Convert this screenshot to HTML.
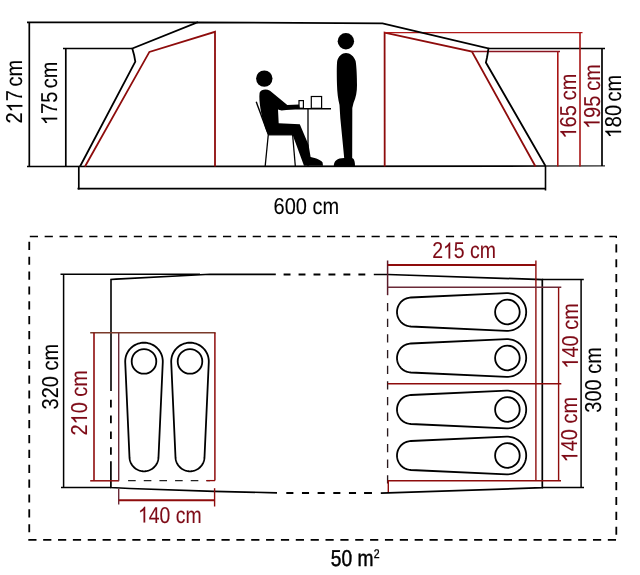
<!DOCTYPE html>
<html><head><meta charset="utf-8"><style>
html,body{margin:0;padding:0;background:#fff;}
svg{display:block;will-change:transform;text-rendering:geometricPrecision;font-family:"Liberation Sans",sans-serif;}
</style></head><body>
<svg width="640" height="575" viewBox="0 0 640 575">
<rect width="640" height="575" fill="#fff"/>
<line x1="27" y1="22.3" x2="198" y2="22.3" stroke="#000" stroke-width="1.7"/>
<line x1="29.3" y1="22.3" x2="29.3" y2="166.5" stroke="#000" stroke-width="1.7"/>
<line x1="27" y1="166.5" x2="545.5" y2="166.0" stroke="#000" stroke-width="1.7"/>
<line x1="545.5" y1="166.0" x2="605" y2="165.9" stroke="#2a2a2a" stroke-width="1.3"/>
<line x1="63" y1="48.5" x2="132" y2="48.5" stroke="#000" stroke-width="1.7"/>
<line x1="65.8" y1="48.5" x2="65.8" y2="166.5" stroke="#000" stroke-width="1.7"/>
<line x1="488.4" y1="48.5" x2="605" y2="48.5" stroke="#000" stroke-width="1.7"/>
<line x1="602" y1="48.5" x2="602" y2="166.0" stroke="#000" stroke-width="1.7"/>
<polyline points="85,166.5 149.4,51.9 215.0,31.8 215.0,166.5" fill="none" stroke="#8e0c0c" stroke-width="1.8" stroke-linejoin="miter"/>
<polyline points="384.7,166.5 384.6,32.6 471.9,51.6 535.5,166.5" fill="none" stroke="#8e0c0c" stroke-width="1.8" stroke-linejoin="miter"/>
<line x1="384.6" y1="32.6" x2="582.5" y2="32.6" stroke="#b01818" stroke-width="1.15"/>
<line x1="580" y1="32.6" x2="580" y2="166.5" stroke="#a81414" stroke-width="1.6"/>
<line x1="471.9" y1="51.5" x2="560" y2="51.5" stroke="#8a1420" stroke-width="1.3"/>
<line x1="557.8" y1="51.5" x2="557.8" y2="166.5" stroke="#a81414" stroke-width="1.6"/>
<polyline points="80,166.5 135.3,61.6 134.2,55.5 132.3,48.5 197.3,22.4 382.5,23.4 488.4,48.4 487.8,53 486.9,58 485.9,62.5 545.5,166.0" fill="none" stroke="#000" stroke-width="1.8" stroke-linejoin="miter"/>
<line x1="78.8" y1="166.5" x2="78.8" y2="189.5" stroke="#000" stroke-width="1.7"/>
<line x1="545.5" y1="166.0" x2="545.5" y2="190.5" stroke="#000" stroke-width="1.6"/>
<line x1="77.5" y1="188.6" x2="545.5" y2="188.6" stroke="#000" stroke-width="1.7"/>
<circle cx="264.3" cy="78.6" r="8.2" fill="#000"/>
<path d="M259.6,92.7 C261,89.5 266,88.6 270,90.7 L287.3,105.1 L299,104.6 L299.8,108.4 L281.6,110.4 L278,109.6 L278.7,123.3 L299.8,124.2 L308.6,145 L310.6,157 C316,158 321,160 322.6,162.5 L323,165.8 L304,165.8 L292.6,134.8 L268.2,134.8 C265,128 262,118 260.5,108.9 C259.6,103 259,97 259.6,92.7 Z" fill="#000"/>
<line x1="256.2" y1="101.7" x2="268.4" y2="134.8" stroke="#000" stroke-width="1.4"/>
<line x1="268.3" y1="134.8" x2="293.5" y2="134.8" stroke="#000" stroke-width="1.3"/>
<line x1="268.3" y1="134.5" x2="265.2" y2="166" stroke="#000" stroke-width="1.3"/>
<line x1="292.6" y1="134.5" x2="295.3" y2="166" stroke="#000" stroke-width="1.3"/>
<line x1="279" y1="108.8" x2="331" y2="108.8" stroke="#000" stroke-width="1.6"/>
<line x1="308" y1="108.8" x2="308" y2="166" stroke="#000" stroke-width="1.3"/>
<rect x="299" y="100.6" width="4.4" height="7.6" fill="none" stroke="#000" stroke-width="1.2"/>
<rect x="311.3" y="96.5" width="10.3" height="11.8" fill="none" stroke="#000" stroke-width="1.2"/>
<circle cx="345.9" cy="41.3" r="8.2" fill="#000"/>
<path d="M346,52.9 C350,52.9 354,56 355.6,61 C356.6,66 357,78 357,85 C357,92 356,97 353.5,103 L352.3,108 L352.2,158 C354.5,159 355,162 355,166 L333.8,166 C333.8,161 337,158 344.2,158 L340.3,118 L339.5,105 C338,99 337.2,92 337,85 C336.8,75 336.6,66 337.2,61 C338.5,56 342,52.9 346,52.9 Z" fill="#000"/>
<g transform="translate(22.4 91.7) rotate(-90) scale(1.0 1.15)" fill="#000" stroke="#000" stroke-width="0.08" font-size="20"><text x="-31.792" y="0">2 7</text><text x="5.132" y="0">cm</text><path transform="translate(-20.669 0) scale(0.009766 -0.009766)" d="M763 0L583 0L583 1098Q518 1039 412 979Q307 920 223 890L223 1057Q374 1125 487 1221Q600 1318 647 1409L763 1409Z" stroke-width="8.19"/></g>
<g transform="translate(57.2 93.3) rotate(-90) scale(1.0 1.15)" fill="#000" stroke="#000" stroke-width="0.08" font-size="20"><text x="-31.792" y="0"> 75</text><text x="5.132" y="0">cm</text><path transform="translate(-31.792 0) scale(0.009766 -0.009766)" d="M763 0L583 0L583 1098Q518 1039 412 979Q307 920 223 890L223 1057Q374 1125 487 1221Q600 1318 647 1409L763 1409Z" stroke-width="8.19"/></g>
<g transform="translate(306.4 213.7) scale(1.0 1.15)" fill="#000" stroke="#000" stroke-width="0.08" font-size="20"><text x="-32.793" y="0">600</text><text x="6.133" y="0">cm</text></g>
<g transform="translate(576.1 106.1) rotate(-90) scale(1.0 1.15)" fill="#7e0a16" stroke="#7e0a16" stroke-width="0.08" font-size="20"><text x="-32.456" y="0"> 65</text><text x="5.796" y="0">cm</text><path transform="translate(-32.456 0) scale(0.009766 -0.009766)" d="M763 0L583 0L583 1098Q518 1039 412 979Q307 920 223 890L223 1057Q374 1125 487 1221Q600 1318 647 1409L763 1409Z" stroke-width="8.19"/></g>
<g transform="translate(599.6 96.6) rotate(-90) scale(1.0 1.15)" fill="#7e0a16" stroke="#7e0a16" stroke-width="0.08" font-size="20"><text x="-32.441" y="0"> 95</text><text x="5.781" y="0">cm</text><path transform="translate(-32.441 0) scale(0.009766 -0.009766)" d="M763 0L583 0L583 1098Q518 1039 412 979Q307 920 223 890L223 1057Q374 1125 487 1221Q600 1318 647 1409L763 1409Z" stroke-width="8.19"/></g>
<g transform="translate(621.1 106.5) rotate(-90) scale(1.0 1.15)" fill="#000" stroke="#000" stroke-width="0.08" font-size="20"><text x="-31.792" y="0"> 80</text><text x="5.132" y="0">cm</text><path transform="translate(-31.792 0) scale(0.009766 -0.009766)" d="M763 0L583 0L583 1098Q518 1039 412 979Q307 920 223 890L223 1057Q374 1125 487 1221Q600 1318 647 1409L763 1409Z" stroke-width="8.19"/></g>
<line x1="29.8" y1="236.5" x2="617" y2="236.5" stroke="#000" stroke-width="1.3" stroke-dasharray="8.2 6.66"/>
<line x1="29.25" y1="241.8" x2="29.25" y2="533" stroke="#000" stroke-width="1.8" stroke-dasharray="8.2 6.66"/>
<line x1="616.3" y1="244.3" x2="616.3" y2="536" stroke="#000" stroke-width="1.8" stroke-dasharray="8.2 6.66"/>
<line x1="28.3" y1="539.9" x2="617" y2="539.9" stroke="#000" stroke-width="1.8" stroke-dasharray="8.2 6.66"/>
<line x1="616.3" y1="236.5" x2="616.3" y2="238" stroke="#000" stroke-width="1.3"/>
<line x1="60.5" y1="274.2" x2="200" y2="274.2" stroke="#000" stroke-width="1.5"/>
<line x1="63.6" y1="274.2" x2="63.6" y2="487.5" stroke="#000" stroke-width="1.5"/>
<line x1="61" y1="487.5" x2="111" y2="487.5" stroke="#000" stroke-width="1.5"/>
<line x1="110.9" y1="399.8" x2="110.9" y2="456" stroke="#000" stroke-width="1.8" stroke-dasharray="7.6 8.2"/>
<polyline points="111,391 111,279.5 116,279.1 210,274.3 275.8,274.4" fill="none" stroke="#000" stroke-width="1.6" stroke-linejoin="miter"/>
<line x1="283.6" y1="274.5" x2="370" y2="274.5" stroke="#000" stroke-width="1.8" stroke-dasharray="6.9 8.06"/>
<polyline points="373.8,274.5 388,274.5 542.3,279.6 542.3,487.7 380.8,493.1" fill="none" stroke="#000" stroke-width="1.7" stroke-linejoin="miter"/>
<line x1="286.3" y1="493.0" x2="376" y2="493.0" stroke="#000" stroke-width="1.8" stroke-dasharray="7.1 8.56"/>
<polyline points="277,492.8 214,491.3 130,488.5 110.9,487.5 110.9,461.3" fill="none" stroke="#000" stroke-width="1.7" stroke-linejoin="miter"/>
<line x1="364" y1="493" x2="372" y2="493" stroke="#000" stroke-width="1.8"/>
<line x1="542" y1="279.6" x2="583.8" y2="279.6" stroke="#000" stroke-width="1.5"/>
<line x1="581.1" y1="279.6" x2="581.1" y2="487.5" stroke="#000" stroke-width="1.5"/>
<line x1="542" y1="487.5" x2="584" y2="487.5" stroke="#000" stroke-width="1.5"/>
<line x1="387.6" y1="260.5" x2="387.6" y2="295.2" stroke="#5a1a28" stroke-width="1.5"/>
<line x1="387.6" y1="303" x2="387.6" y2="485" stroke="#2a1a1e" stroke-width="1.35" stroke-dasharray="8.3 7.36"/>
<line x1="388.3" y1="480.8" x2="388.3" y2="492" stroke="#8e0c0c" stroke-width="1.4"/>
<line x1="387.6" y1="265" x2="535.9" y2="265" stroke="#8e0c0c" stroke-width="2.0"/>
<line x1="535.9" y1="260.6" x2="535.9" y2="480.8" stroke="#8e0c0c" stroke-width="1.4"/>
<line x1="387.6" y1="287.3" x2="561.3" y2="287.3" stroke="#6a2a38" stroke-width="1.4"/>
<line x1="387.6" y1="383.8" x2="561.3" y2="383.8" stroke="#8e0c0c" stroke-width="1.4"/>
<line x1="387.6" y1="480.8" x2="561" y2="480.8" stroke="#8e0c0c" stroke-width="1.6"/>
<line x1="558.6" y1="287.3" x2="558.6" y2="480.8" stroke="#8e0c0c" stroke-width="1.4"/>
<line x1="90.2" y1="332.8" x2="215.6" y2="332.8" stroke="#7a3a2a" stroke-width="1.4"/>
<line x1="94.0" y1="332.8" x2="94.0" y2="480.8" stroke="#8e0c0c" stroke-width="1.6"/>
<line x1="90.2" y1="480.8" x2="119.1" y2="480.8" stroke="#8e0c0c" stroke-width="1.5"/>
<line x1="118.7" y1="332.8" x2="118.7" y2="480.8" stroke="#6a2a38" stroke-width="1.4"/>
<line x1="118.7" y1="488.8" x2="118.7" y2="504.6" stroke="#6a2a38" stroke-width="1.4"/>
<line x1="214.9" y1="332.8" x2="214.9" y2="480.6" stroke="#8e0c0c" stroke-width="1.5"/>
<line x1="214.6" y1="488.2" x2="214.6" y2="506.5" stroke="#8e0c0c" stroke-width="1.4"/>
<line x1="128.1" y1="480.6" x2="210" y2="480.6" stroke="#222" stroke-width="1.3" stroke-dasharray="7.6 8.06"/>
<line x1="206.4" y1="480.6" x2="215" y2="480.6" stroke="#8e0c0c" stroke-width="1.3"/>
<line x1="118.7" y1="500.2" x2="214.6" y2="500.2" stroke="#8e0c0c" stroke-width="2.0"/>
<polygon points="410.85,326.49 409.75,326.39 408.66,326.22 407.58,325.96 406.53,325.62 405.50,325.20 404.51,324.71 403.57,324.14 402.66,323.50 401.81,322.79 401.02,322.02 400.29,321.19 399.62,320.31 399.02,319.38 398.49,318.41 398.04,317.40 397.67,316.36 397.38,315.29 397.17,314.20 397.04,313.11 397.00,312.00 397.04,310.89 397.17,309.80 397.38,308.71 397.67,307.64 398.04,306.60 398.49,305.59 399.02,304.62 399.62,303.69 400.29,302.81 401.02,301.98 401.81,301.21 402.66,300.50 403.57,299.86 404.51,299.29 405.50,298.80 406.53,298.38 407.58,298.04 408.66,297.78 409.75,297.61 410.85,297.51 506.56,293.22 508.08,293.21 509.59,293.33 511.09,293.57 512.56,293.92 514.01,294.40 515.40,294.99 516.75,295.69 518.04,296.50 519.25,297.41 520.39,298.41 521.45,299.50 522.41,300.68 523.27,301.93 524.03,303.24 524.69,304.61 525.23,306.03 525.65,307.49 525.96,308.98 526.14,310.48 526.20,312.00 526.14,313.52 525.96,315.02 525.65,316.51 525.23,317.97 524.69,319.39 524.03,320.76 523.27,322.07 522.41,323.32 521.45,324.50 520.39,325.59 519.25,326.59 518.04,327.50 516.75,328.31 515.40,329.01 514.01,329.60 512.56,330.08 511.09,330.43 509.59,330.67 508.08,330.79 506.56,330.78" fill="none" stroke="#000" stroke-width="1.8"/>
<circle cx="507.4" cy="312" r="12.3" fill="none" stroke="#000" stroke-width="1.8"/>
<polygon points="410.85,372.49 409.75,372.39 408.66,372.22 407.58,371.96 406.53,371.62 405.50,371.20 404.51,370.71 403.57,370.14 402.66,369.50 401.81,368.79 401.02,368.02 400.29,367.19 399.62,366.31 399.02,365.38 398.49,364.41 398.04,363.40 397.67,362.36 397.38,361.29 397.17,360.20 397.04,359.11 397.00,358.00 397.04,356.89 397.17,355.80 397.38,354.71 397.67,353.64 398.04,352.60 398.49,351.59 399.02,350.62 399.62,349.69 400.29,348.81 401.02,347.98 401.81,347.21 402.66,346.50 403.57,345.86 404.51,345.29 405.50,344.80 406.53,344.38 407.58,344.04 408.66,343.78 409.75,343.61 410.85,343.51 506.56,339.22 508.08,339.21 509.59,339.33 511.09,339.57 512.56,339.92 514.01,340.40 515.40,340.99 516.75,341.69 518.04,342.50 519.25,343.41 520.39,344.41 521.45,345.50 522.41,346.68 523.27,347.93 524.03,349.24 524.69,350.61 525.23,352.03 525.65,353.49 525.96,354.98 526.14,356.48 526.20,358.00 526.14,359.52 525.96,361.02 525.65,362.51 525.23,363.97 524.69,365.39 524.03,366.76 523.27,368.07 522.41,369.32 521.45,370.50 520.39,371.59 519.25,372.59 518.04,373.50 516.75,374.31 515.40,375.01 514.01,375.60 512.56,376.08 511.09,376.43 509.59,376.67 508.08,376.79 506.56,376.78" fill="none" stroke="#000" stroke-width="1.8"/>
<circle cx="507.4" cy="358" r="12.3" fill="none" stroke="#000" stroke-width="1.8"/>
<polygon points="410.85,423.99 409.75,423.89 408.66,423.72 407.58,423.46 406.53,423.12 405.50,422.70 404.51,422.21 403.57,421.64 402.66,421.00 401.81,420.29 401.02,419.52 400.29,418.69 399.62,417.81 399.02,416.88 398.49,415.91 398.04,414.90 397.67,413.86 397.38,412.79 397.17,411.70 397.04,410.61 397.00,409.50 397.04,408.39 397.17,407.30 397.38,406.21 397.67,405.14 398.04,404.10 398.49,403.09 399.02,402.12 399.62,401.19 400.29,400.31 401.02,399.48 401.81,398.71 402.66,398.00 403.57,397.36 404.51,396.79 405.50,396.30 406.53,395.88 407.58,395.54 408.66,395.28 409.75,395.11 410.85,395.01 506.56,390.72 508.08,390.71 509.59,390.83 511.09,391.07 512.56,391.42 514.01,391.90 515.40,392.49 516.75,393.19 518.04,394.00 519.25,394.91 520.39,395.91 521.45,397.00 522.41,398.18 523.27,399.43 524.03,400.74 524.69,402.11 525.23,403.53 525.65,404.99 525.96,406.48 526.14,407.98 526.20,409.50 526.14,411.02 525.96,412.52 525.65,414.01 525.23,415.47 524.69,416.89 524.03,418.26 523.27,419.57 522.41,420.82 521.45,422.00 520.39,423.09 519.25,424.09 518.04,425.00 516.75,425.81 515.40,426.51 514.01,427.10 512.56,427.58 511.09,427.93 509.59,428.17 508.08,428.29 506.56,428.28" fill="none" stroke="#000" stroke-width="1.8"/>
<circle cx="507.4" cy="409.5" r="12.3" fill="none" stroke="#000" stroke-width="1.8"/>
<polygon points="410.85,469.99 409.75,469.89 408.66,469.72 407.58,469.46 406.53,469.12 405.50,468.70 404.51,468.21 403.57,467.64 402.66,467.00 401.81,466.29 401.02,465.52 400.29,464.69 399.62,463.81 399.02,462.88 398.49,461.91 398.04,460.90 397.67,459.86 397.38,458.79 397.17,457.70 397.04,456.61 397.00,455.50 397.04,454.39 397.17,453.30 397.38,452.21 397.67,451.14 398.04,450.10 398.49,449.09 399.02,448.12 399.62,447.19 400.29,446.31 401.02,445.48 401.81,444.71 402.66,444.00 403.57,443.36 404.51,442.79 405.50,442.30 406.53,441.88 407.58,441.54 408.66,441.28 409.75,441.11 410.85,441.01 506.56,436.72 508.08,436.71 509.59,436.83 511.09,437.07 512.56,437.42 514.01,437.90 515.40,438.49 516.75,439.19 518.04,440.00 519.25,440.91 520.39,441.91 521.45,443.00 522.41,444.18 523.27,445.43 524.03,446.74 524.69,448.11 525.23,449.53 525.65,450.99 525.96,452.48 526.14,453.98 526.20,455.50 526.14,457.02 525.96,458.52 525.65,460.01 525.23,461.47 524.69,462.89 524.03,464.26 523.27,465.57 522.41,466.82 521.45,468.00 520.39,469.09 519.25,470.09 518.04,471.00 516.75,471.81 515.40,472.51 514.01,473.10 512.56,473.58 511.09,473.93 509.59,474.17 508.08,474.29 506.56,474.28" fill="none" stroke="#000" stroke-width="1.8"/>
<circle cx="507.4" cy="455.5" r="12.3" fill="none" stroke="#000" stroke-width="1.8"/>
<polygon points="158.49,457.45 158.39,458.56 158.22,459.65 157.96,460.72 157.62,461.78 157.20,462.80 156.71,463.79 156.14,464.74 155.50,465.64 154.79,466.49 154.02,467.28 153.19,468.01 152.31,468.68 151.38,469.28 150.41,469.81 149.40,470.26 148.36,470.63 147.29,470.92 146.20,471.13 145.11,471.26 144.00,471.30 142.89,471.26 141.80,471.13 140.71,470.92 139.64,470.63 138.60,470.26 137.59,469.81 136.62,469.28 135.69,468.68 134.81,468.01 133.98,467.28 133.21,466.49 132.50,465.64 131.86,464.74 131.29,463.79 130.80,462.80 130.38,461.78 130.04,460.72 129.78,459.65 129.61,458.56 129.51,457.45 125.22,362.35 125.21,360.83 125.33,359.32 125.56,357.82 125.92,356.34 126.40,354.90 126.99,353.50 127.69,352.15 128.50,350.87 129.41,349.65 130.41,348.51 131.50,347.46 132.68,346.49 133.93,345.63 135.24,344.87 136.61,344.21 138.03,343.67 139.49,343.25 140.98,342.94 142.48,342.76 144.00,342.70 145.52,342.76 147.02,342.94 148.51,343.25 149.97,343.67 151.39,344.21 152.76,344.87 154.07,345.63 155.32,346.49 156.50,347.46 157.59,348.51 158.59,349.65 159.50,350.87 160.31,352.15 161.01,353.50 161.60,354.90 162.08,356.34 162.44,357.82 162.67,359.32 162.79,360.83 162.78,362.35" fill="none" stroke="#000" stroke-width="1.8"/>
<circle cx="144" cy="361.4" r="12.3" fill="none" stroke="#000" stroke-width="1.8"/>
<polygon points="204.49,457.45 204.39,458.56 204.22,459.65 203.96,460.72 203.62,461.78 203.20,462.80 202.71,463.79 202.14,464.74 201.50,465.64 200.79,466.49 200.02,467.28 199.19,468.01 198.31,468.68 197.38,469.28 196.41,469.81 195.40,470.26 194.36,470.63 193.29,470.92 192.20,471.13 191.11,471.26 190.00,471.30 188.89,471.26 187.80,471.13 186.71,470.92 185.64,470.63 184.60,470.26 183.59,469.81 182.62,469.28 181.69,468.68 180.81,468.01 179.98,467.28 179.21,466.49 178.50,465.64 177.86,464.74 177.29,463.79 176.80,462.80 176.38,461.78 176.04,460.72 175.78,459.65 175.61,458.56 175.51,457.45 171.22,362.35 171.21,360.83 171.33,359.32 171.56,357.82 171.92,356.34 172.40,354.90 172.99,353.50 173.69,352.15 174.50,350.87 175.41,349.65 176.41,348.51 177.50,347.46 178.68,346.49 179.93,345.63 181.24,344.87 182.61,344.21 184.03,343.67 185.49,343.25 186.98,342.94 188.48,342.76 190.00,342.70 191.52,342.76 193.02,342.94 194.51,343.25 195.97,343.67 197.39,344.21 198.76,344.87 200.07,345.63 201.32,346.49 202.50,347.46 203.59,348.51 204.59,349.65 205.50,350.87 206.31,352.15 207.01,353.50 207.60,354.90 208.08,356.34 208.44,357.82 208.67,359.32 208.79,360.83 208.78,362.35" fill="none" stroke="#000" stroke-width="1.8"/>
<circle cx="190" cy="361.4" r="12.3" fill="none" stroke="#000" stroke-width="1.8"/>
<g transform="translate(464.1 258.4) scale(0.975 1.15)" fill="#7e0a16" stroke="#7e0a16" stroke-width="0.08" font-size="20"><text x="-32.793" y="0">2 5</text><text x="6.133" y="0">cm</text><path transform="translate(-21.670 0) scale(0.009766 -0.009766)" d="M763 0L583 0L583 1098Q518 1039 412 979Q307 920 223 890L223 1057Q374 1125 487 1221Q600 1318 647 1409L763 1409Z" stroke-width="8.19"/></g>
<g transform="translate(57.8 376.7) rotate(-90) scale(1.0 1.15)" fill="#000" stroke="#000" stroke-width="0.08" font-size="20"><text x="-32.793" y="0">320</text><text x="6.133" y="0">cm</text></g>
<g transform="translate(87.0 402.8) rotate(-90) scale(1.0 1.15)" fill="#7e0a16" stroke="#7e0a16" stroke-width="0.08" font-size="20"><text x="-32.793" y="0">2 0</text><text x="6.133" y="0">cm</text><path transform="translate(-21.670 0) scale(0.009766 -0.009766)" d="M763 0L583 0L583 1098Q518 1039 412 979Q307 920 223 890L223 1057Q374 1125 487 1221Q600 1318 647 1409L763 1409Z" stroke-width="8.19"/></g>
<g transform="translate(577.9 335.9) rotate(-90) scale(1.0 1.15)" fill="#7e0a16" stroke="#7e0a16" stroke-width="0.08" font-size="20"><text x="-32.793" y="0"> 40</text><text x="6.133" y="0">cm</text><path transform="translate(-32.793 0) scale(0.009766 -0.009766)" d="M763 0L583 0L583 1098Q518 1039 412 979Q307 920 223 890L223 1057Q374 1125 487 1221Q600 1318 647 1409L763 1409Z" stroke-width="8.19"/></g>
<g transform="translate(601.0 379.9) rotate(-90) scale(1.0 1.15)" fill="#000" stroke="#000" stroke-width="0.08" font-size="20"><text x="-32.793" y="0">300</text><text x="6.133" y="0">cm</text></g>
<g transform="translate(577.4 429.6) rotate(-90) scale(1.0 1.15)" fill="#7e0a16" stroke="#7e0a16" stroke-width="0.08" font-size="20"><text x="-32.793" y="0"> 40</text><text x="6.133" y="0">cm</text><path transform="translate(-32.793 0) scale(0.009766 -0.009766)" d="M763 0L583 0L583 1098Q518 1039 412 979Q307 920 223 890L223 1057Q374 1125 487 1221Q600 1318 647 1409L763 1409Z" stroke-width="8.19"/></g>
<g transform="translate(169.8 522.5) scale(0.97 1.15)" fill="#7e0a16" stroke="#7e0a16" stroke-width="0.08" font-size="20"><text x="-32.793" y="0"> 40</text><text x="6.133" y="0">cm</text><path transform="translate(-32.793 0) scale(0.009766 -0.009766)" d="M763 0L583 0L583 1098Q518 1039 412 979Q307 920 223 890L223 1057Q374 1125 487 1221Q600 1318 647 1409L763 1409Z" stroke-width="8.19"/></g>
<text transform="translate(330.8 566.2) scale(0.96 1.15)" x="0" y="0" fill="#000" stroke="#000" stroke-width="0.4" font-size="20">50 m<tspan font-size="11" dx="0.2" dy="-6.9" stroke-width="0.3">2</tspan></text>
</svg>
</body></html>
